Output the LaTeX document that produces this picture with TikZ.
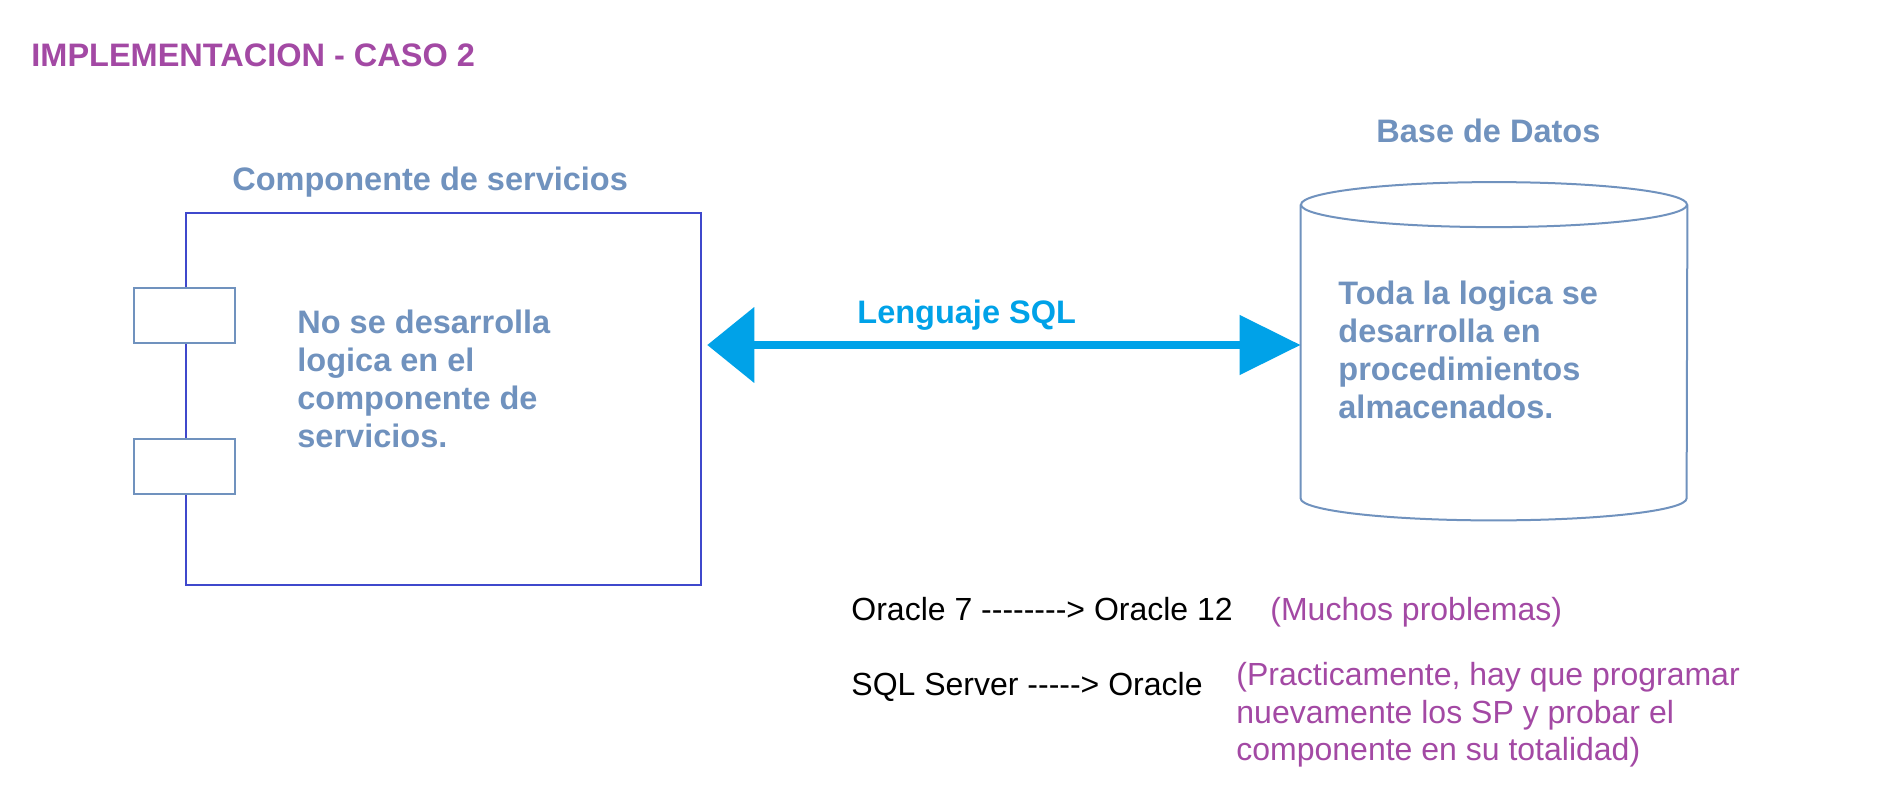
\documentclass[tikz,border=0pt]{standalone}
\usepackage{fontspec}
\setmainfont{Liberation Sans}
\usepackage{xcolor}
\usetikzlibrary{arrows.meta}
\definecolor{cpurple}{HTML}{A349A4}
\definecolor{cgris}{HTML}{7092BE}
\definecolor{cindigo}{HTML}{3F48CC}
\definecolor{cturq}{HTML}{00A2E8}
\tikzset{
  etiq/.style={font=\fontsize{16.25}{19}\selectfont\bfseries,text=cgris,inner sep=0pt,align=left},
  nota/.style={font=\fontsize{16}{18.75}\selectfont,inner sep=0pt,align=left},
  compbox/.style={draw=cindigo,line width=1.25pt,minimum width=257.5pt,minimum height=186pt,inner sep=0pt},
  puerto/.style={draw=cgris,fill=white,line width=1pt,minimum width=50.5pt,minimum height=27.5pt,inner sep=0pt},
  cil/.style={draw=cgris,line width=1pt},
  sqlflecha/.style={cturq,line width=4pt,{Triangle[length=23.5pt,width=37pt]}-{Triangle[length=30.5pt,width=29pt]}},
}

\begin{document}
\begin{tikzpicture}[x=0.5pt,y=-0.5pt]
  \fill[white] (0,0) rectangle (1889,808);
  \useasboundingbox (0,0) rectangle (1889,808);

  \node[etiq,text=cpurple,anchor=base west] (titulo) at (31,67) {IMPLEMENTACION - CASO 2};

  % componente de servicios
  \node[compbox] (comp) at (443.5,399) {};
  \node[puerto] (p1) at ([yshift=41.75pt]comp.west) {};
  \node[puerto] (p2) at ([yshift=-33.75pt]comp.west) {};
  \node[etiq,anchor=base west] (lcomp) at (232,191) {Componente de servicios};
  \node[etiq,anchor=north west] (tcomp) at (297,310) {No se desarrolla\\logica en el\\componente de\\servicios.};

  % base de datos
  \node[minimum width=193pt,minimum height=146.5pt,inner sep=0pt] (bd) at (1494,351.5) {};
  \draw[cil] (bd.north west) -- (bd.south west)
    arc[start angle=180,end angle=360,x radius=96.5pt,y radius=11pt] -- (bd.north east);
  \draw[cil] (bd.north) ellipse[x radius=96.5pt,y radius=11.25pt];
  \node[etiq,anchor=base west] (lbd) at (1376,142) {Base de Datos};
  \node[etiq,anchor=north west] (tbd) at (1338,281) {Toda la logica se\\desarrolla en\\procedimientos\\almacenados.};

  \draw[sqlflecha] ([xshift=2.5pt,yshift=27pt]comp.east) -- ([yshift=3.25pt]bd.west);
  \node[etiq,text=cturq,anchor=base west] (lsql) at (857,323) {Lenguaje SQL};

  % migraciones
  \node[nota,anchor=base west] (m1) at (851,620) {Oracle 7 -{}-{}-{}-{}-{}-{}-{}-> Oracle 12};
  \node[nota,text=cpurple,anchor=base west] (n1) at (1270,620) {(Muchos problemas)};
  \node[nota,anchor=base west] (m2) at (851,695) {SQL Server -{}-{}-{}-{}-> Oracle};
  \node[nota,text=cpurple,anchor=north west] (n2) at (1236,662) {(Practicamente, hay que programar\\nuevamente los SP y probar el\\componente en su totalidad)};
\end{tikzpicture}
\end{document}
